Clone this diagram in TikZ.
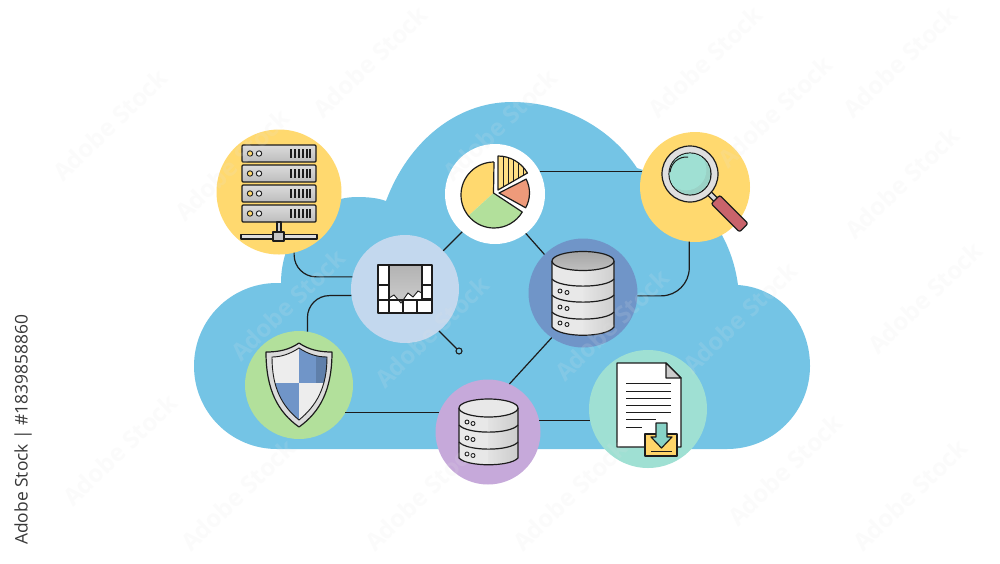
\documentclass[tikz,border=0pt]{standalone}
\usepackage{fontspec}
\setmainfont{Open Sans}
\usetikzlibrary{calc}
\definecolor{cloudc}{HTML}{74C4E5}
\definecolor{ink}{HTML}{1C1C1C}
\definecolor{sunc}{HTML}{FFD96F}
\definecolor{paleb}{HTML}{C3D8EE}
\definecolor{deepb}{HTML}{7095C8}
\definecolor{leaf}{HTML}{B2E09B}
\definecolor{lilac}{HTML}{C6A9DA}
\definecolor{mint}{HTML}{9FE0D3}
\definecolor{coral}{HTML}{EE9A7A}
\definecolor{rose}{HTML}{C9636B}
\tikzset{
  x=1pt,y=-1pt,
  badge/.style={circle,inner sep=0pt,outer sep=0pt,fill=#1},
  link/.style={draw=ink,line width=1.2pt},
  icon/.style={draw=ink,line width=1.2pt,line join=round},
  thin ink/.style={draw=ink,line width=0.9pt},
  stamp/.style={font=\bfseries\fontsize{24}{24}\selectfont,text=gray!20,opacity=0.14,rotate=44,inner sep=0pt},
}
\newcommand{\rackunit}[1]{%
  \draw[icon,rounded corners=1pt,top color=gray!28,bottom color=gray!52] (242,#1) rectangle (316,#1+17);
  \draw[thin ink,fill=sunc] (250,#1+8.5) circle (2.7);
  \draw[thin ink,fill=gray!15] (259,#1+8.5) circle (2.7);
  \foreach \b in {291,295,299,303,307,310}{\draw[ink,line width=1.2pt] (\b,#1+4) -- (\b,#1+13);}
}
\newcommand{\drumband}[3]{%
  \draw[icon] (#1,#3) .. controls (#1+8,#3+9.5) and (#2-8,#3+9.5) .. (#2,#3);
}
\begin{document}
\begin{tikzpicture}
\useasboundingbox (0,0) rectangle (1000,563);
\fill[white] (0,0) rectangle (1000,563);
% cloud
\fill[cloudc] (277,449) .. controls (231,449) and (194,412) .. (194,366)
  .. controls (194,320) and (231,283) .. (277,283) -- (281,283)
  .. controls (281,235) and (315,197) .. (357,197)
  .. controls (368,197) and (378,198) .. (386,201)
  .. controls (408,142) and (456,102) .. (512,102)
  .. controls (566,102) and (612,130) .. (637,168)
  .. controls (690,185) and (730,225) .. (738,285)
  .. controls (782,288) and (810,325) .. (810,366)
  .. controls (810,412) and (773,449) .. (727,449) -- cycle;
% badges
\node[badge=sunc,minimum size=125pt] (srv) at (279,192) {};
\node[badge=paleb,minimum size=108pt] (chart) at (405,289) {};
\node[badge=white,minimum size=100pt] (pie) at (495,194) {};
\node[badge=sunc,minimum size=110pt] (mag) at (695,187) {};
\node[badge=deepb,minimum size=109pt] (db) at (583,293) {};
\node[badge=leaf,minimum size=108pt] (shield) at (299,385) {};
\node[badge=lilac,minimum size=105pt] (pdb) at (488,432) {};
\node[badge=mint,minimum size=118pt] (doc) at (648,409) {};
\node[circle,draw=ink,line width=1.1pt,fill=none,minimum size=6pt,inner sep=0pt,outer sep=0pt] (dot) at (459,351) {};
% connectors
\draw[link,rounded corners=22pt] (srv.-76) |- (chart.167);
\draw[link,rounded corners=22pt] (shield.81.6) |- (chart.187.5);
\draw[link] (chart.45) -- (pie.229);
\draw[link] (pie.-52) -- (db.135);
\draw[link] (pie.27.4) -- (pie.27.4 -| mag.163.1);
\draw[link,rounded corners=28pt] (mag.264) |- (db.-3);
\draw[link] (chart.-51) -- (dot);
\draw[link] (db.235) -- (pdb.66);
\draw[link] (shield.-31.2) -- (shield.-31.2 -| pdb.158.8);
\draw[link] (pdb.13.2) -- (pdb.13.2 -| doc.190.7);
% server icon
\rackunit{145}\rackunit{165}\rackunit{185}\rackunit{205}
\draw[icon,fill=gray!35] (277,222) rectangle (281,233);
\draw[icon,fill=gray!25] (241,234.5) rectangle (317,239);
\draw[icon,fill=gray!45] (273,232) rectangle (284,241);
% chart icon
\fill[white] (378,265) rectangle (432,313);
\path[top color=gray!60,bottom color=gray!40] (389,265) -- (422,265) -- (422,293) -- (418,291) -- (413,297) -- (408,293) -- (401,303) -- (394,295) -- (389,298) -- cycle;
\draw[ink,line width=0.9pt] (389,298) -- (394,295) -- (401,303) -- (408,293) -- (413,297) -- (418,291) -- (422,293);
\draw[icon] (389,265) -- (389,313) (422,265) -- (422,300) (417,300) -- (417,313) (403,300) -- (403,313)
  (378,285) -- (389,285) (378,300) -- (389,300) (422,285) -- (432,285) (422,299) -- (432,299) (389,300) -- (432,300);
\draw[icon,line width=1.5pt] (378,265) rectangle (432,313);
% pie icon
\fill[sunc] (493.5,193) -- (494,162) arc[start angle=-90,end angle=-219,radius=33] -- cycle;
\fill[leaf] (493.5,193) -- (468.4,215.8) arc[start angle=-219,end angle=-329,radius=33] -- cycle;
\draw[icon] (494,162) arc[start angle=-90,end angle=-329,radius=33];
\draw[icon] (494,162) -- (493.5,193) -- (522.3,212);
\begin{scope}
\path[fill=sunc!85!white] (498,190) -- (498,156) arc[start angle=-90,end angle=-30,radius=34] -- cycle;
\clip (498,190) -- (498,156) arc[start angle=-90,end angle=-30,radius=34] -- cycle;
\foreach \h in {503,508,513,518,523}{\draw[ink,line width=1pt] (\h,150) -- (\h,195);}
\end{scope}
\draw[icon] (498,190) -- (498,156) arc[start angle=-90,end angle=-30,radius=34] -- cycle;
\draw[icon,fill=coral] (499,193) -- ++(-27:30.5) arc[start angle=-27,end angle=29,radius=30.5] -- cycle;
% magnifier icon
\begin{scope}[shift={(690,174)},rotate=-45]
\draw[icon,fill=gray!30] (27,-2.5) rectangle (38,2.5);
\draw[icon,fill=rose,rounded corners=2pt] (36,-6) rectangle (76,6);
\end{scope}
\draw[icon,fill=gray!25] (690,174) circle (28);
\draw[icon,fill=mint] (690,174) circle (21);
\begin{scope}
\clip (690,174) circle (20.4);
\fill[mint!85!gray] (690,174) circle (20.4);
\fill[mint] (686,170) circle (20.4);
\end{scope}
\draw[ink,line width=1pt] (688,157) arc[start angle=-85,end angle=-175,radius=16.5];
% big database
\fill[gray!18] (552,261) -- (552,327) .. controls (560,338) and (606,338) .. (614,327) -- (614,261) -- cycle;
\path[left color=gray!20,right color=gray!38] (583,261) -- (614,261) -- (614,327) .. controls (610,332) and (596,334) .. (583,334) -- cycle;
\draw[icon] (552,261) -- (552,327) .. controls (560,338) and (606,338) .. (614,327) -- (614,261);
\drumband{552}{614}{279}\drumband{552}{614}{295}\drumband{552}{614}{312}
\draw[icon,top color=gray!70,bottom color=gray!50] (583,261) ellipse (31 and 9.5);
\foreach \yy in {291,307,323}{\draw[thin ink,fill=gray!10] (560,\yy) circle (2); \draw[thin ink,fill=gray!10] (567,\yy+1.5) circle (2);}
% purple database
\fill[gray!18] (459,408) -- (459,458) .. controls (467,467) and (510,467) .. (518,458) -- (518,408) -- cycle;
\path[left color=gray!22,right color=gray!40] (488,408) -- (518,408) -- (518,458) .. controls (512,462) and (498,464) .. (488,464) -- cycle;
\draw[icon] (459,408) -- (459,458) .. controls (467,467) and (510,467) .. (518,458) -- (518,408);
\drumband{459}{518}{425}\drumband{459}{518}{442}
\draw[icon,fill=gray!18] (488.5,408) ellipse (29.5 and 9);
\foreach \yy in {422,438,454}{\draw[thin ink,fill=gray!10] (467,\yy) circle (2); \draw[thin ink,fill=gray!10] (473,\yy+1.5) circle (2);}
% shield icon
\draw[icon,fill=gray!28] (299,343) .. controls (309,350) and (320,352) .. (332,352)
  .. controls (332,390) and (320,412) .. (299,427)
  .. controls (278,412) and (266,390) .. (266,352)
  .. controls (278,352) and (289,350) .. (299,343) -- cycle;
\begin{scope}
\clip (299,348) .. controls (308,354) and (317,357) .. (327,357)
  .. controls (327,388) and (316,406) .. (299,420)
  .. controls (282,406) and (272,388) .. (272,357)
  .. controls (281,357) and (290,354) .. (299,348) -- cycle;
\fill[gray!14] (260,340) rectangle (299,383);
\fill[deepb] (299,340) rectangle (340,383);
\fill[deepb!85!black] (316,340) rectangle (340,383);
\fill[deepb] (260,383) rectangle (299,430);
\fill[gray!14] (299,383) rectangle (340,430);
\end{scope}
\draw[ink,line width=0.9pt] (299,348) .. controls (308,354) and (317,357) .. (327,357)
  .. controls (327,388) and (316,406) .. (299,420)
  .. controls (282,406) and (272,388) .. (272,357)
  .. controls (281,357) and (290,354) .. (299,348) -- cycle;
% document icon
\draw[icon,fill=white] (617,363) -- (666,363) -- (681,378) -- (681,447) -- (617,447) -- cycle;
\draw[icon,fill=gray!40] (666,363) -- (681,378) -- (666,378) -- cycle;
\foreach \yy in {383,391,398,405,412}{\draw[ink,line width=1pt] (626,\yy) -- (671,\yy);}
\draw[ink,line width=1pt] (626,419) -- (656,419);
\draw[ink,line width=1pt] (626,427) -- (642,427);
\draw[icon,fill=sunc!95!orange] (645,434) rectangle (677,456);
\draw[icon,fill=mint!85!teal] (656,423) -- (667,423) -- (667,437) -- (672,437) -- (661.5,448) -- (651,437) -- (656,437) -- cycle;
\draw[ink,line width=1pt] (651,451) -- (672,451);
% faint stock marks
\foreach \px/\py in {110/125,232/165,370/62,500/125,705/62,775/112,900/62,902/183,925/298,740/318,612/325,432/332,288/305,120/450,238/495,422/495,570/495,785/470,910/495}{
  \node[stamp] (mark\px) at (\px,\py) {Adobe Stock};
}
% vertical credit
\node[rotate=90,anchor=west,inner sep=0pt,text=black!78,font=\fontsize{17.4}{17.4}\selectfont] (credit) at (23,545) {Adobe Stock | \#1839858860};
\end{tikzpicture}
\end{document}
